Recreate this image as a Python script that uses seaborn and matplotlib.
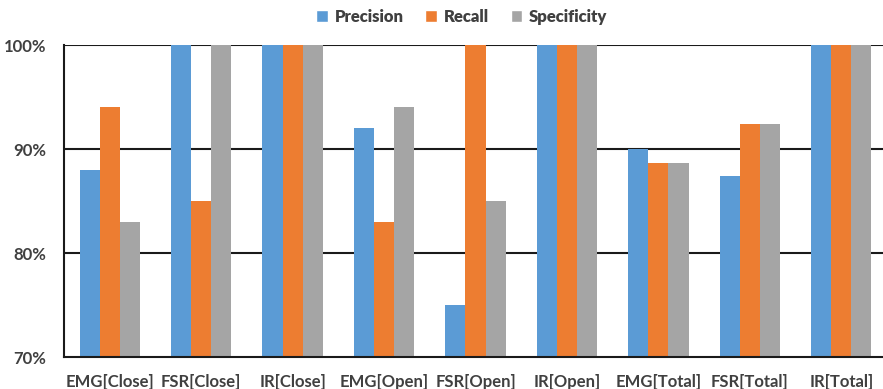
import matplotlib
matplotlib.use("Agg")
import matplotlib.pyplot as plt
import seaborn as sns
import pandas as pd
from matplotlib.patches import Patch

categories = ["EMG[Close]", "FSR[Close]", "IR[Close]", "EMG[Open]", "FSR[Open]",
              "IR[Open]", "EMG[Total]", "FSR[Total]", "IR[Total]"]
precision = [88, 100, 100, 92, 75, 100, 90, 87.4, 100]
recall = [94, 85, 100, 83, 100, 100, 88.7, 92.4, 100]
specificity = [83, 100, 100, 94, 85, 100, 88.7, 92.4, 100]
metrics = ["Precision", "Recall", "Specificity"]
colors = ["#5B9BD5", "#ED7D31", "#A5A5A5"]
yticks = [70, 80, 90, 100]
ytick_labels = ["70%", "80%", "90%", "100%"]

rows = []
for name, vals in zip(metrics, [precision, recall, specificity]):
    for c, v in zip(categories, vals):
        rows.append({"category": c, "metric": name, "value": v})
df = pd.DataFrame(rows)

sns.set_theme(style="white")
plt.rcParams["font.family"] = ["Lato", "DejaVu Sans"]

fig = plt.figure(figsize=(8.83, 3.89), dpi=100)
ax = fig.add_axes([64 / 883, 32 / 389, 823 / 883, 312 / 389])

sns.barplot(data=df, x="category", y="value", hue="metric", order=categories,
            hue_order=metrics, palette=colors, width=0.66, saturation=1,
            errorbar=None, legend=False, linewidth=0, ax=ax)

ax.set_ylim(70, 100)
ax.set_xlim(-0.5, 8.5)
ax.set_yticks(yticks)
ax.set_yticklabels(ytick_labels)
for y in [80, 90, 100]:
    ax.axhline(y, color="#1a1a1a", lw=1.5, zorder=0.5)

for s in ["top", "right"]:
    ax.spines[s].set_visible(False)
for s in ["left", "bottom"]:
    ax.spines[s].set_color("#1a1a1a")
    ax.spines[s].set_linewidth(1.5)

ax.set_xlabel("")
ax.set_ylabel("")
ax.tick_params(axis="both", length=0, labelsize=12, labelcolor="#404040")
ax.tick_params(axis="x", pad=12)
ax.tick_params(axis="y", pad=13)
for lbl in ax.get_xticklabels() + ax.get_yticklabels():
    lbl.set_fontweight("bold")

handles = [Patch(facecolor=c, label=m) for c, m in zip(colors, metrics)]
fig.legend(handles=handles, loc="center", bbox_to_anchor=(0.523, 0.956),
           ncol=3, frameon=False, handlelength=0.7, handleheight=0.7,
           columnspacing=1.3, handletextpad=0.4,
           prop={"size": 12, "weight": "heavy"}, labelcolor="#404040")

fig.savefig("out.png", dpi=100)
